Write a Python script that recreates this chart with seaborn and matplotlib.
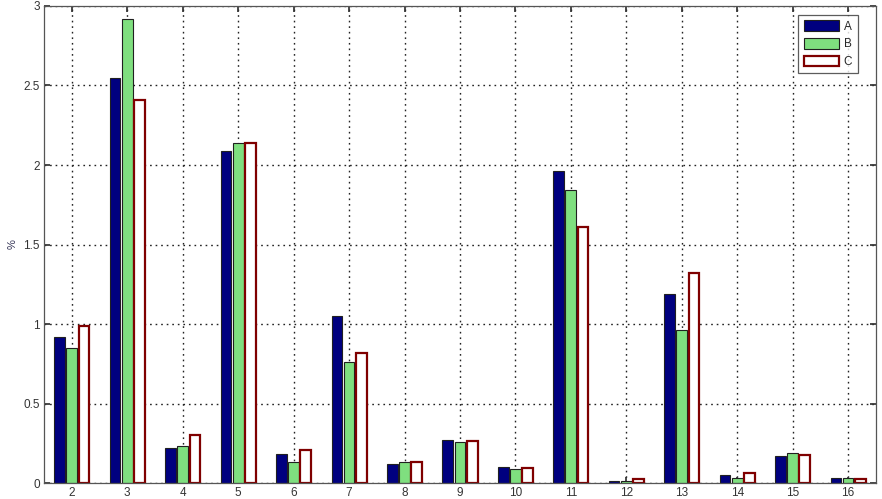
import pandas as pd
import numpy as np
import matplotlib.pyplot as plt
import seaborn as sns

sns.set_theme(style="white")
plt.rcParams['font.family'] = ['Liberation Sans', 'DejaVu Sans']

# values (percent)
categories = [str(i) for i in range(2, 17)]
series_a = [0.92, 2.55, 0.22, 2.09, 0.18, 1.05, 0.12, 0.27, 0.10, 1.96, 0.015, 1.19, 0.05, 0.17, 0.033]
series_b = [0.85, 2.92, 0.23, 2.14, 0.13, 0.76, 0.13, 0.26, 0.09, 1.84, 0.013, 0.96, 0.033, 0.19, 0.03]
series_c = [0.99, 2.41, 0.30, 2.14, 0.21, 0.82, 0.13, 0.265, 0.095, 1.61, 0.027, 1.32, 0.06, 0.175, 0.023]
series_names = ['A', 'B', 'C']

df = pd.DataFrame({
    'cat': categories * 3,
    'series': np.repeat(series_names, len(categories)),
    'value': series_a + series_b + series_c,
})

fig = plt.figure(figsize=(8.82, 4.99), dpi=100)
ax = fig.add_axes([0.05, 0.032, 0.943, 0.956])

colors = {'A': '#00007F', 'B': '#7FDF7F', 'C': '#FFFFFF'}
sns.barplot(data=df, x='cat', y='value', hue='series', hue_order=series_names,
            order=categories, palette=colors, saturation=1, width=0.66, gap=0.12,
            legend=False, ax=ax, edgecolor='#202020', linewidth=0.8)

# C bars: white face, dark red edge
for p in ax.containers[2]:
    p.set_edgecolor('#7F0000')
    p.set_linewidth(1.6)

ax.set_xlim(-0.5, len(categories) - 0.5)
ax.set_ylim(0, 3)
ax.set_yticks([0, 0.5, 1, 1.5, 2, 2.5, 3])
ax.set_yticklabels(['0', '0.5', '1', '1.5', '2', '2.5', '3'])
ax.set_xlabel('')
ax.set_ylabel('%', fontsize=8, color='#333355')

ax.grid(True, linestyle=(0, (1.2, 2.8)), color='#222222', linewidth=1.0)
ax.set_axisbelow(True)
for s in ax.spines.values():
    s.set_visible(True)
    s.set_color('#555555')
    s.set_linewidth(0.9)
ax.tick_params(direction='in', length=4, labelsize=8.5, colors='#333333', pad=3,
               top=True, right=True, bottom=True, left=True)

leg = ax.legend(handles=ax.containers, labels=series_names, loc='upper right',
                bbox_to_anchor=(0.978, 0.981), borderaxespad=0, fontsize=8.5,
                frameon=True, fancybox=False, edgecolor='#333333',
                handlelength=3.0, handleheight=1.0, handletextpad=0.4,
                borderpad=0.45, labelspacing=0.45)
leg.get_frame().set_linewidth(0.9)

fig.savefig('out.png', dpi=100)
